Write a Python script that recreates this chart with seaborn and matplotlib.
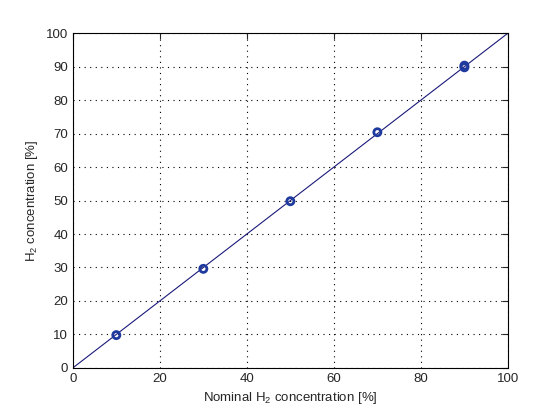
import numpy as np
import pandas as pd
import matplotlib
matplotlib.use("Agg")
import matplotlib.pyplot as plt
import seaborn as sns

# measured points
nominal = [10, 30, 50, 70, 90, 90]
measured = [9.8, 29.6, 49.8, 70.4, 90.3, 89.8]

# reference line y = x
line_x = [0, 100]
line_y = [0, 100]

x_ticks = list(range(0, 101, 20))
y_ticks = list(range(0, 101, 10))

sns.set_style("white")
plt.rcParams['font.family'] = ['Liberation Sans', 'DejaVu Sans']
plt.rcParams['mathtext.fontset'] = 'custom'
plt.rcParams['mathtext.rm'] = 'Liberation Sans'

fig = plt.figure(figsize=(5.6, 4.2), dpi=100)
ax = fig.add_axes([0.130, 0.124, 0.777, 0.797])

sns.lineplot(x=line_x, y=line_y, ax=ax, color='#1a1a7a', linewidth=0.8)
sns.scatterplot(x=nominal, y=measured, ax=ax, marker='o', s=26,
                facecolor='none', edgecolor='#1f3a9e', linewidth=2.0, zorder=3)

ax.set_xlim(0, 100)
ax.set_ylim(0, 100)
ax.set_xticks(x_ticks)
ax.set_yticks(y_ticks)
ax.grid(True, linestyle=(0, (1, 4)), color='black', linewidth=0.8)
ax.tick_params(direction='in', length=4, labelsize=9.5, top=True, right=True)
for s in ax.spines.values():
    s.set_color('black')
    s.set_linewidth(0.8)

ax.set_xlabel('Nominal H$_\\mathrm{2}$ concentration [%]', fontsize=9.5)
ax.set_ylabel('H$_\\mathrm{2}$ concentration [%]', fontsize=9.5)

fig.savefig('out.png', dpi=100)
